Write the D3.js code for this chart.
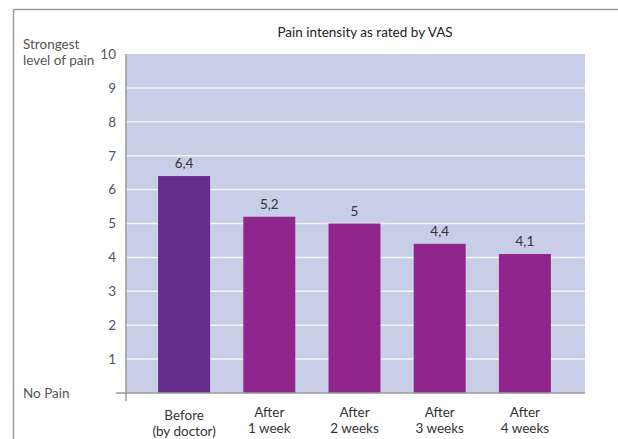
<!DOCTYPE html>
<html>
<head>
<meta charset="utf-8">
<script src="https://cdn.jsdelivr.net/npm/d3@7"></script>
<style>
  body { margin: 0; background: #fff; }
  svg { display: block; font-family: Lato, "Liberation Sans", sans-serif; }
</style>
</head>
<body>
<div id="chart"></div>
<script>
  // ---- Data ---------------------------------------------------------------
  var categories = [
    ['Before', '(by doctor)'],
    ['After', '1 week'],
    ['After', '2 weeks'],
    ['After', '3 weeks'],
    ['After', '4 weeks']
  ];
  var values = [6.4, 5.2, 5, 4.4, 4.1];
  var valueLabels = ['6,4', '5,2', '5', '4,4', '4,1'];
  var yTicks = [1, 2, 3, 4, 5, 6, 7, 8, 9, 10];
  var title = 'Pain intensity as rated by VAS';

  // ---- Layout -------------------------------------------------------------
  var W = 618, H = 439;
  var plot = { left: 126, right: 585, top: 54, bottom: 393 };
  var FONT = 13.5;

  var svg = d3.select('#chart').append('svg')
    .attr('width', W).attr('height', H);

  // frame lines (top + left)
  svg.append('line')
    .attr('x1', 13.5).attr('x2', W).attr('y1', 9.5).attr('y2', 9.5)
    .attr('stroke', '#9a9a9a').attr('stroke-width', 1.5);
  svg.append('line')
    .attr('x1', 13.5).attr('x2', 13.5).attr('y1', 9.5).attr('y2', H)
    .attr('stroke', '#9a9a9a').attr('stroke-width', 1.5);

  var y = d3.scaleLinear().domain([0, 10]).range([plot.bottom, plot.top]);
  var x = d3.scaleBand()
    .domain(d3.range(values.length))
    .range([141.5, 567.5])
    .paddingInner(0.39)
    .paddingOuter(0.195);

  // plot background
  svg.append('rect')
    .attr('x', plot.left).attr('y', plot.top)
    .attr('width', plot.right - plot.left).attr('height', plot.bottom - plot.top)
    .attr('fill', '#c8cee8');

  // white gridlines
  svg.append('g').selectAll('line')
    .data(yTicks.slice(0, -1))
    .join('line')
    .attr('x1', plot.left).attr('x2', plot.right)
    .attr('y1', function(d) { return y(d); })
    .attr('y2', function(d) { return y(d); })
    .attr('stroke', '#f4f5fb').attr('stroke-width', 1.5);

  // bars
  svg.append('g').selectAll('rect')
    .data(values)
    .join('rect')
    .attr('x', function(d, i) { return x(i); })
    .attr('y', function(d) { return y(d); })
    .attr('width', x.bandwidth())
    .attr('height', function(d) { return y(0) - y(d); })
    .attr('fill', function(d, i) { return i === 0 ? '#652c8c' : '#90268c'; });

  // value labels
  svg.append('g').selectAll('text')
    .data(values)
    .join('text')
    .attr('x', function(d, i) { return x(i) + x.bandwidth() / 2; })
    .attr('y', function(d) { return y(d) - 8; })
    .attr('text-anchor', 'middle')
    .attr('font-size', FONT)
    .attr('fill', '#333')
    .text(function(d, i) { return valueLabels[i]; });

  // y axis
  var yAxis = d3.axisLeft(y).tickValues(yTicks).tickSize(0).tickPadding(10);
  var gy = svg.append('g').attr('transform', 'translate(' + plot.left + ',0)').call(yAxis);
  gy.select('.domain').remove();
  gy.selectAll('text').attr('font-size', FONT).attr('fill', '#555')
    .attr('font-family', 'Lato, "Liberation Sans", sans-serif');
  svg.append('line')
    .attr('x1', plot.left).attr('x2', plot.left)
    .attr('y1', plot.top).attr('y2', 401)
    .attr('stroke', '#9a9a9a').attr('stroke-width', 1.5);

  // x axis line
  svg.append('line')
    .attr('x1', 116).attr('x2', plot.right)
    .attr('y1', plot.bottom).attr('y2', plot.bottom)
    .attr('stroke', '#9a9a9a').attr('stroke-width', 1.5);

  // category labels (two lines)
  var cat = svg.append('g').selectAll('text')
    .data(categories)
    .join('text')
    .attr('text-anchor', 'middle')
    .attr('font-size', FONT)
    .attr('fill', '#333');
  cat.each(function(d, i) {
    var t = d3.select(this);
    var cx = x(i) + x.bandwidth() / 2;
    var base = i === 0 ? 420 : 417;
    d.forEach(function(line, k) {
      t.append('tspan').attr('x', cx).attr('y', base + k * 15.5).text(line);
    });
  });

  // title
  svg.append('text')
    .attr('x', 365).attr('y', 37)
    .attr('text-anchor', 'middle')
    .attr('font-size', FONT)
    .attr('fill', '#222')
    .text(title);

  // side annotations
  svg.append('text').attr('x', 23).attr('y', 49)
    .attr('font-size', FONT).attr('fill', '#555').text('Strongest');
  svg.append('text').attr('x', 23).attr('y', 65)
    .attr('font-size', FONT).attr('fill', '#555').text('level of pain');
  svg.append('text').attr('x', 23).attr('y', 398)
    .attr('font-size', FONT).attr('fill', '#555').text('No Pain');
</script>
</body>
</html>
